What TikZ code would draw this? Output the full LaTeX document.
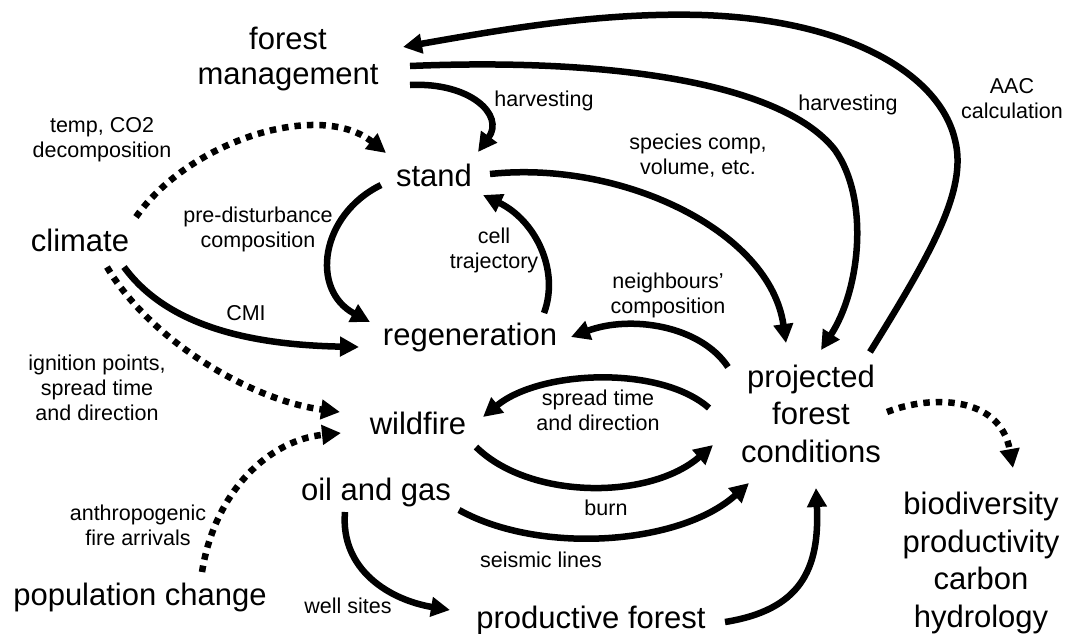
\documentclass[tikz,border=0pt]{standalone}
\usepackage{fontspec}
\setmainfont{Liberation Sans}
\usetikzlibrary{arrows.meta}
\newcommand\bigtxt{\fontsize{31}{37.5}\selectfont}
\newcommand\smalltxt{\fontsize{21.5}{25}\selectfont}
\tikzset{
  big/.style={font=\bigtxt, align=center, inner sep=0pt, anchor=base},
  lbl/.style={font=\smalltxt, align=center, inner sep=0pt, anchor=base},
  conn/.style={line width=6.5pt, -{Triangle[length=19pt,width=19pt]}},
  dotconn/.style={conn, dash pattern=on 6.5pt off 6pt},
}
\begin{document}
\begin{tikzpicture}[x=1pt,y=-1pt]
\useasboundingbox (0,0) rectangle (1068,633);
% main nodes (multi-line nodes placed by the baseline of their last line)
\node[big, font=\fontsize{31}{35}\selectfont] (fm) at (288,84) {forest\\management};
\node[big] (stand) at (434,186) {stand};
\node[big] (climate) at (80,251) {climate};
\node[big] (regen) at (470,345) {regeneration};
\node[big] (wildfire) at (418,434) {wildfire};
\node[big] (oilgas) at (376,500) {oil and gas};
\node[big] (pop) at (140,605) {population change};
\node[big] (prodf) at (591,628) {productive forest};
\node[big] (proj) at (811,462) {projected\\forest\\conditions};
\node[big] (bio) at (981,627) {biodiversity\\productivity\\carbon\\hydrology};
% labels
\node[lbl] (l1) at (102,157) {temp, CO2\\decomposition};
\node[lbl] (l2) at (544,106) {harvesting};
\node[lbl] (l3) at (848,110) {harvesting};
\node[lbl] (l4) at (1012,118) {AAC\\calculation};
\node[lbl] (l5) at (698,174) {species comp,\\volume, etc.};
\node[lbl] (l6) at (258,247) {pre-disturbance\\composition};
\node[lbl] (l7) at (494,268) {cell\\trajectory};
\node[lbl] (l8) at (668,313) {neighbours'\\composition};
\node[lbl] (l9) at (246,320) {CMI};
\node[lbl] (l10) at (97,420) {ignition points,\\spread time\\and direction};
\node[lbl] (l11) at (598,430) {spread time\\and direction};
\node[lbl] (l12) at (606,515) {burn};
\node[lbl] (l13) at (541,567) {seismic lines};
\node[lbl] (l14) at (138,545) {anthropogenic\\fire arrivals};
\node[lbl] (l15) at (348,613) {well sites};
% connector end points
\coordinate (projA) at (870,352);
\coordinate (fmA) at (403,47);
\coordinate (fmB) at (410,66);
\coordinate (projB) at (821,350);
\coordinate (fmC) at (410,85);
\coordinate (standC) at (478,152);
\coordinate (standD) at (490,174);
\coordinate (projD) at (786,343);
\coordinate (standE) at (381,185);
\coordinate (regenE) at (370,322);
\coordinate (regenF) at (544,313);
\coordinate (standF) at (483,195);
\coordinate (projG) at (728,367);
\coordinate (regenG) at (571,337);
\coordinate (projH) at (709,408);
\coordinate (wildH) at (483,417);
\coordinate (wildI) at (476,447);
\coordinate (projI) at (713,445);
\coordinate (oilJ) at (459,510);
\coordinate (projJ) at (749,483);
\coordinate (oilK) at (345,512);
\coordinate (prodK) at (450,610);
\coordinate (prodL) at (725,622);
\coordinate (projL) at (816,488);
\coordinate (climM) at (124,267);
\coordinate (regenM) at (359,347);
\coordinate (climN) at (136,217);
\coordinate (standN) at (386,153);
\coordinate (climO) at (107,267);
\coordinate (wildO) at (340,412);
\coordinate (popP) at (202,572);
\coordinate (wildP) at (341,433);
\coordinate (projQ) at (887,412);
\coordinate (bioQ) at (1013,468);
% solid connectors
\draw[conn] (projA) .. controls (930,255) and (968,190) .. (955,140)
  .. controls (940,75) and (850,20) .. (702,15)
  .. controls (600,12) and (500,30) .. (fmA);
\draw[conn] (fmB) .. controls (600,58) and (780,80) .. (835,150)
  .. controls (870,200) and (860,290) .. (projB);
\draw[conn] (fmC) .. controls (470,82) and (505,115) .. (standC);
\draw[conn] (standD) .. controls (620,160) and (770,230) .. (projD);
\draw[conn] (standE) .. controls (320,215) and (310,290) .. (regenE);
\draw[conn] (regenF) .. controls (560,270) and (535,220) .. (standF);
\draw[conn] (projG) .. controls (700,325) and (630,315) .. (regenG);
\draw[conn] (projH) .. controls (660,365) and (540,370) .. (wildH);
\draw[conn] (wildI) .. controls (530,500) and (650,500) .. (projI);
\draw[conn] (oilJ) .. controls (540,555) and (680,545) .. (projJ);
\draw[conn] (oilK) .. controls (340,570) and (390,600) .. (prodK);
\draw[conn] (prodL) .. controls (800,610) and (820,570) .. (projL);
\draw[conn] (climM) .. controls (170,330) and (260,345) .. (regenM);
% dotted connectors
\draw[dotconn] (climN) .. controls (190,140) and (320,100) .. (standN);
\draw[dotconn] (climO) .. controls (150,340) and (250,400) .. (wildO);
\draw[dotconn] (popP) .. controls (215,490) and (270,440) .. (wildP);
\draw[dotconn] (projQ) .. controls (930,395) and (1000,395) .. (bioQ);
\end{tikzpicture}
\end{document}
